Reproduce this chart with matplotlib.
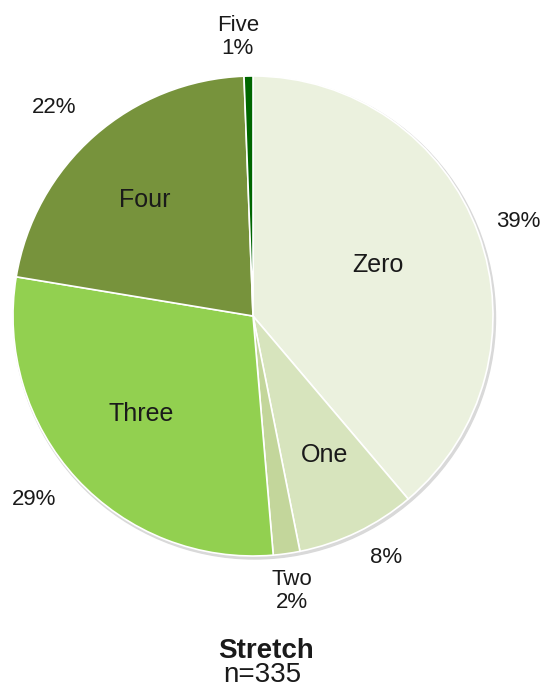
import numpy as np
import matplotlib.pyplot as plt

plt.rcParams['font.family'] = ['Liberation Sans', 'DejaVu Sans']

categories = ['Zero', 'One', 'Two', 'Three', 'Four', 'Five']
counts = [130, 27, 6, 97, 73, 2]
pct_labels = ['39%', '8%', '2%', '29%', '22%', '1%']
colors = ['#EBF1DE', '#D7E4BD', '#C3D69B', '#92D050', '#77933C', '#006600']
outside_names = ['Two', 'Five']   # small slices: name goes outside with the percent

W, H = 546, 691
fig = plt.figure(figsize=(W / 100, H / 100), dpi=100)
ax = fig.add_axes([0, 0, 1, 1])

cx, cy, R = 253, H - 316, 240

# label placement (fraction of radius, angle nudge in degrees) - "best fit" look
name_r = {'Zero': 0.56, 'One': 0.65, 'Three': 0.62, 'Four': 0.66}
name_da = {'Zero': 2, 'One': 1.6, 'Three': -1.7, 'Four': 1.6}
pct_r = {'Zero': 1.175, 'One': 1.15, 'Three': 1.19, 'Four': 1.2}
pct_da = {'Zero': -0.6, 'One': 3, 'Three': -2.7, 'Four': 2.2}

# soft shadow behind the pie
shadow = plt.Circle((cx + 1.5, cy - 2), R + 1, color='#d9d9d9', zorder=0)
ax.add_patch(shadow)

wedges, _ = ax.pie(counts, colors=colors, startangle=90, counterclock=False,
                   center=(cx, cy), radius=R, frame=True,
                   wedgeprops=dict(edgecolor='white', linewidth=1.2))
ax.set_xlim(0, W)
ax.set_ylim(0, H)
ax.set_aspect('equal')
ax.axis('off')

fs_pct = 16
fs_name = 18
for w, name, pct in zip(wedges, categories, pct_labels):
    mid = (w.theta1 + w.theta2) / 2
    if name in outside_names:
        r = 1.15 * R
        a = np.deg2rad(mid)
        x, y = cx + r * np.cos(a), cy + r * np.sin(a)
        if name == 'Five':
            x -= 10
            y += 3
        else:
            y -= 2
        ax.text(x, y, name + '\n' + pct, ha='center', va='center', fontsize=fs_pct,
                linespacing=1.12, color='#1a1a1a')
    else:
        a = np.deg2rad(mid + name_da[name])
        r = name_r[name] * R
        ax.text(cx + r * np.cos(a), cy + r * np.sin(a), name, ha='center',
                va='center', fontsize=fs_name, color='#1a1a1a')
        a = np.deg2rad(mid + pct_da[name])
        r = pct_r[name] * R
        ax.text(cx + r * np.cos(a), cy + r * np.sin(a), pct, ha='center',
                va='center', fontsize=fs_pct, color='#1a1a1a')

ax.text(266, H - 651, 'Stretch', ha='center', va='center', fontsize=20,
        fontweight='bold', color='#1a1a1a')
ax.text(262, H - 675, 'n=335', ha='center', va='center', fontsize=20,
        color='#1a1a1a')

fig.savefig('out.png', dpi=100)
